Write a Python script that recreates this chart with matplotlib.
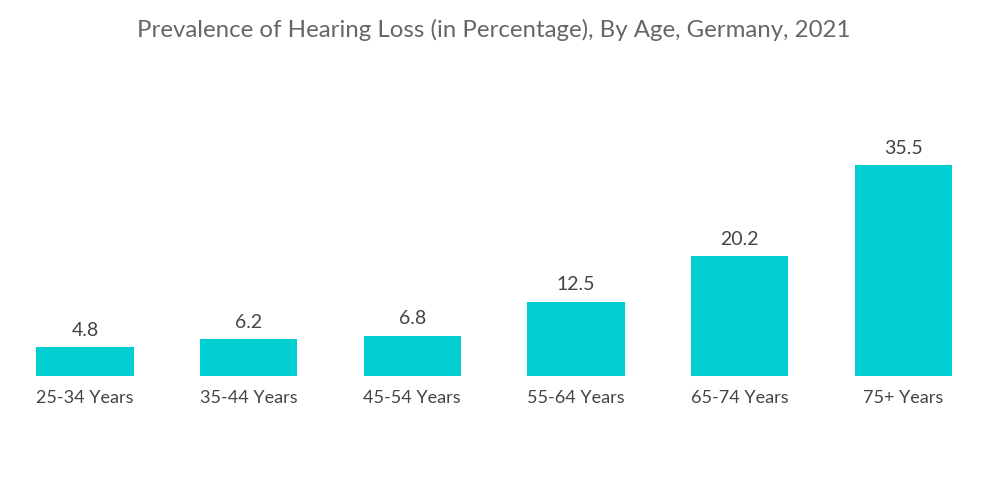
import matplotlib
matplotlib.use("Agg")
import matplotlib.pyplot as plt

categories = ["25-34 Years", "35-44 Years", "45-54 Years", "55-64 Years", "65-74 Years", "75+ Years"]
values = [4.8, 6.2, 6.8, 12.5, 20.2, 35.5]
title = "Prevalence of Hearing Loss (in Percentage), By Age, Germany, 2021"

plt.rcParams['font.family'] = ['Lato', 'DejaVu Sans']

fig = plt.figure(figsize=(10, 5.04), dpi=100)
ax = fig.add_axes([0.0032, 0.254, 0.9818, 0.471])
x = list(range(len(categories)))
ax.bar(x, values, width=0.595, color="#00CED1")
ax.set_xlim(-0.5, len(categories) - 0.5)
ax.set_ylim(0, 40)
for xi, v in zip(x, values):
    ax.text(xi, v + 1.4, f"{v}", ha="center", va="bottom", fontsize=14, color="#444444")
ax.set_xticks(x)
ax.set_xticklabels(categories, fontsize=13, color="#444444")
ax.tick_params(axis="x", length=0, pad=10)
ax.set_yticks([])
for s in ax.spines.values():
    s.set_visible(False)
fig.text(0.494, 0.94, title, ha="center", va="center", fontsize=17.3, color="#666666")
fig.savefig("out.png", dpi=100, facecolor="white")
